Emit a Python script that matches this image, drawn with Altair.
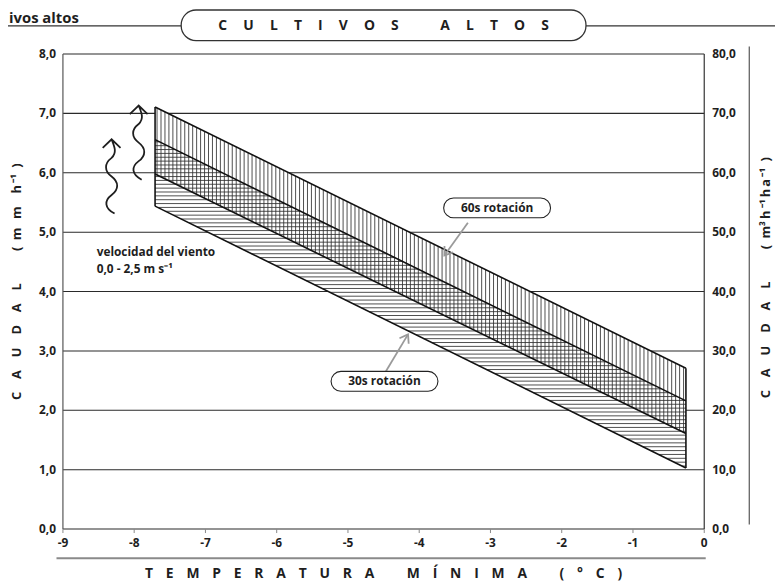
import math
import altair as alt
import pandas as pd

# ---------------- data ----------------
temperatura_ticks = [-9, -8, -7, -6, -5, -4, -3, -2, -1, 0]
caudal_mm_ticks = [0, 1, 2, 3, 4, 5, 6, 7, 8]
caudal_m3_ticks = [0, 10, 20, 30, 40, 50, 60, 70, 80]

band_temp = [-7.7, -0.25]          # temperature extent of both bands
rot60_sup = [7.1, 2.7]             # 60 s rotation, upper edge
rot60_inf = [5.97, 1.6]            # 60 s rotation, lower edge
rot30_sup = [6.55, 2.15]           # 30 s rotation, upper edge
rot30_inf = [5.43, 1.02]           # 30 s rotation, lower edge

label_names = ["60s rotación", "30s rotación"]
label_temp = [-2.90, -4.48]
label_caudal = [5.40, 2.48]
arrow_from_temp = [-3.31, -4.46]
arrow_from_caudal = [5.15, 2.65]
arrow_to_temp = [-3.64, -4.15]
arrow_to_caudal = [4.60, 3.27]

viento_lines = ["velocidad del viento", "0,0 - 2,5 m s⁻¹"]
viento_temp = [-8.52, -8.52]
viento_caudal = [4.65, 4.37]
wind_arrow_temp = [-8.31, -7.93]
wind_arrow_caudal = [5.93, 6.50]

# ---------------- layout / style ----------------
W, H = 648, 480
PX_X = W / 9.0   # px per °C
PX_Y = H / 8.0   # px per mm/h
FONT = "Open Sans"
INK = "#1e1e1e"
EM = "\u2003"
EN = "\u2002"
THIN = "\u2009"


def spaced(text, gap=EM, word_gap=EM * 2 + EN):
    words = text.split(" ")
    return word_gap.join(gap.join(list(w)) for w in words)


x_scale = alt.Scale(domain=[-9, 0], nice=False, zero=False)
y_scale = alt.Scale(domain=[0, 8], nice=False, zero=False)
NOAX = None

X_GAP = EN + THIN + " "
x_axis = alt.Axis(
    values=temperatura_ticks,
    labelExpr="datum.value == 0 ? '0' : '-' + abs(datum.value)",
    grid=False, domain=False, ticks=True, tickSize=4, tickColor="#888",
    labelFont=FONT, labelFontSize=12, labelFontWeight="bold", labelColor=INK,
    labelPadding=5, labelFlush=False, labelOverlap=False,
    title=spaced("TEMPERATURA MÍNIMA (°C)", gap=X_GAP, word_gap=X_GAP * 2 + EN),
    titleFont=FONT, titleFontSize=14, titleFontWeight="bold", titleColor=INK,
    titleX=W / 2, titleY=45, titleBaseline="middle", titleAlign="center",
)

left_title = (spaced("CAUDAL") + EM * 2 + EN + "(" + EN + "m" + EN + THIN + "m"
              + EN + EN + "h" + THIN + "⁻¹" + EN + ")")
right_title = (spaced("CAUDAL") + EM * 2 + EN + "(" + EN + "m³" + THIN + "h" + THIN
               + "⁻¹" + THIN + "h" + THIN + "a" + THIN + "⁻¹" + EN + ")")

y_axis = alt.Axis(
    values=caudal_mm_ticks,
    labelExpr="replace(format(datum.value, '.1f'), '.', ',')",
    grid=True, gridColor="#2a2a2a", gridWidth=1.1, gridOpacity=1,
    domain=True, domainColor="#555", domainWidth=1.2, ticks=False,
    labelFont=FONT, labelFontSize=12, labelFontWeight="bold", labelColor=INK,
    labelPadding=7, labelFlush=False, labelOverlap=False,
    title=left_title,
    titleFont=FONT, titleFontSize=13, titleFontWeight="bold", titleColor=INK,
    titleAngle=270, titleX=-46, titleY=230, titleBaseline="middle", titleAlign="center",
)

y2_axis = alt.Axis(
    orient="right",
    values=caudal_m3_ticks,
    labelExpr="replace(format(datum.value, '.1f'), '.', ',')",
    grid=False, domain=True, domainColor="#333", domainWidth=1.2, ticks=False,
    labelFont=FONT, labelFontSize=12, labelFontWeight="bold", labelColor=INK,
    labelPadding=8, labelFlush=False, labelOverlap=False,
    title=right_title,
    titleFont=FONT, titleFontSize=13, titleFontWeight="bold", titleColor=INK,
    titleAngle=270, titleX=62, titleY=226, titleBaseline="middle", titleAlign="center",
)


def X(field):
    return alt.X(field, scale=x_scale, axis=x_axis)


def Y(field):
    return alt.Y(field, scale=y_scale, axis=NOAX)


# ---------------- bands ----------------
x0, x1 = band_temp
env = pd.DataFrame({"t": band_temp, "lo": rot30_inf, "hi": rot60_sup})
envelope = alt.Chart(env).mark_area(color="white", opacity=1).encode(
    x=X("t:Q"),
    y=alt.Y("lo:Q", scale=y_scale, axis=y_axis),
    y2="hi:Q",
)


def lin(edge, t):
    return f"({edge[0]} + ({edge[1]} - {edge[0]}) * ({t} - {x0}) / ({x1} - {x0}))"


def inv(edge, c):
    return f"({x0} + ({c} - {edge[0]}) / ({edge[1]} - {edge[0]}) * ({x1} - {x0}))"


vert_hatch = (
    alt.Chart(alt.sequence(x0 + 2 / PX_X, x1, 4.0 / PX_X, as_="t"))
    .transform_calculate(lo=lin(rot60_inf, "datum.t"), hi=lin(rot60_sup, "datum.t"))
    .mark_rule(color="#2e2e2e", strokeWidth=0.85)
    .encode(x=X("t:Q"), y=Y("lo:Q"), y2="hi:Q")
)

ylo = min(rot30_inf)
yhi = max(rot30_sup)
horiz_hatch = (
    alt.Chart(alt.sequence(ylo + 2 / PX_Y, yhi, 3.9 / PX_Y, as_="c"))
    .transform_calculate(
        left=f"max({x0}, {inv(rot30_inf, 'datum.c')})",
        right=f"min({x1}, {inv(rot30_sup, 'datum.c')})",
    )
    .transform_filter("datum.left < datum.right")
    .mark_rule(color="#2e2e2e", strokeWidth=0.85)
    .encode(x=X("left:Q"), x2="right:Q", y=Y("c:Q"))
)

edges_rows = []
for name, edge in [("60s_sup", rot60_sup), ("60s_inf", rot60_inf),
                   ("30s_sup", rot30_sup), ("30s_inf", rot30_inf)]:
    for t, v in zip(band_temp, edge):
        edges_rows.append({"serie": name, "t": t, "v": v})
edges = alt.Chart(pd.DataFrame(edges_rows)).mark_line(color="#111", strokeWidth=1.6).encode(
    x=X("t:Q"), y=Y("v:Q"), detail="serie:N",
)
sides = alt.Chart(pd.DataFrame({
    "t": band_temp, "lo": rot30_inf, "hi": rot60_sup,
})).mark_rule(color="#111", strokeWidth=1.6).encode(
    x=X("t:Q"), y=Y("lo:Q"), y2="hi:Q",
)

# ---------------- right axis (m3/h/ha) ----------------
right_axis = alt.Chart(pd.DataFrame({"v": caudal_m3_ticks})).mark_point(opacity=0).encode(
    y=alt.Y("v:Q", scale=alt.Scale(domain=[0, 80], nice=False, zero=False), axis=y2_axis),
)

# ---------------- annotations ----------------
BOX_HALF_W = 54 / PX_X
BOX_HALF_H = 10 / PX_Y
lab = pd.DataFrame({"name": label_names, "t": label_temp, "c": label_caudal})
lab["t1"] = lab["t"] - BOX_HALF_W
lab["t2"] = lab["t"] + BOX_HALF_W
lab["c1"] = lab["c"] - BOX_HALF_H
lab["c2"] = lab["c"] + BOX_HALF_H

arr = pd.DataFrame({
    "t0": arrow_from_temp, "c0": arrow_from_caudal,
    "t1": arrow_to_temp, "c1": arrow_to_caudal,
})
arr["ang"] = [
    (math.degrees(math.atan2((b - a) * PX_X, (d - c) * PX_Y)) + 360) % 360
    for a, b, c, d in zip(arr["t0"], arr["t1"], arr["c0"], arr["c1"])
]

arrow_lines = alt.Chart(arr).mark_rule(color="#9a9a9a", strokeWidth=1.8).encode(
    x=X("t0:Q"), x2="t1:Q", y=Y("c0:Q"), y2="c1:Q",
)
arrow_heads = alt.Chart(arr).mark_point(
    shape="M -0.7 1 L 0 0 L 0.7 1", filled=False, color="#9a9a9a",
    strokeWidth=1.8, size=240, opacity=1,
).encode(x=X("t1:Q"), y=Y("c1:Q"), angle=alt.Angle("ang:Q", scale=None))

boxes = alt.Chart(lab).mark_rect(
    fill="white", stroke="#222", strokeWidth=1.1, cornerRadius=10,
).encode(x=X("t1:Q"), x2="t2:Q", y=Y("c1:Q"), y2="c2:Q")
box_text = alt.Chart(lab).mark_text(
    font=FONT, fontSize=12, fontWeight="bold", color=INK, align="center", baseline="middle",
).encode(x=X("t:Q"), y=Y("c:Q"), text="name:N")

viento = alt.Chart(pd.DataFrame({
    "txt": viento_lines, "t": viento_temp, "c": viento_caudal,
})).mark_text(
    font=FONT, fontSize=12, fontWeight="bold", color=INK, align="left", baseline="middle",
).encode(x=X("t:Q"), y=Y("c:Q"), text="txt:N")

WAVY_ARROW = (
    "M 0.08 1 C -0.2 0.85 -0.2 0.65 0 0.5 C 0.2 0.35 0.2 0.15 0 0 "
    "C -0.2 -0.15 -0.2 -0.35 0 -0.5 C 0.15 -0.65 0.08 -0.8 0 -1 "
    "M -0.24 -0.77 L 0 -1 L 0.24 -0.77"
)
wind = alt.Chart(pd.DataFrame({
    "t": wind_arrow_temp, "c": wind_arrow_caudal,
})).mark_point(
    shape=WAVY_ARROW, filled=False, color=INK, strokeWidth=1.8, size=5625, opacity=1,
).encode(x=X("t:Q"), y=Y("c:Q"))

# ---------------- frame decorations (pixel positions) ----------------
one = alt.Data(values=[{}])
top_line_l = alt.Chart(one).mark_rule(color="#333", strokeWidth=1.3).encode(
    x=alt.value(-60), x2=alt.value(120), y=alt.value(-28))
top_line_r = alt.Chart(one).mark_rule(color="#333", strokeWidth=1.3).encode(
    x=alt.value(529), x2=alt.value(725), y=alt.value(-28))
top_box = alt.Chart(one).mark_rect(
    fill="white", stroke="#333", strokeWidth=1.3, cornerRadius=15).encode(
    x=alt.value(120), x2=alt.value(529), y=alt.value(-44), y2=alt.value(-13))
top_text = alt.Chart(one).mark_text(
    font=FONT, fontSize=14, fontWeight="bold", color=INK, align="center", baseline="middle",
).encode(x=alt.value(324.5), y=alt.value(-28),
         text=alt.value(spaced("CULTIVOS ALTOS", gap=EM + THIN, word_gap=EM * 3)))
corner_text = alt.Chart(one).mark_text(
    font=FONT, fontSize=15, fontWeight="bold", color=INK, align="left", baseline="alphabetic",
).encode(x=alt.value(-54), y=alt.value(-30.5), text=alt.value("ivos altos"))
underline = alt.Chart(one).mark_rule(color="#8a8a8a", strokeWidth=2).encode(
    x=alt.value(-6), x2=alt.value(650), y=alt.value(510))
right_line = alt.Chart(one).mark_rule(color="#555", strokeWidth=1.2).encode(
    x=alt.value(694), y=alt.value(-7), y2=alt.value(476))

chart = alt.layer(
    envelope, right_axis, vert_hatch, horiz_hatch, edges, sides,
    arrow_lines, arrow_heads, boxes, box_text, viento, wind,
    top_line_l, top_line_r, top_box, top_text, corner_text, underline, right_line,
).resolve_scale(y="independent").properties(
    width=W, height=H,
    padding={"left": 55, "top": 43, "right": 72, "bottom": 54},
    autosize=alt.AutoSizeParams(type="none"),
).configure_view(stroke=None)

chart.save("out.html", embed_options={"renderer": "svg", "actions": False})
